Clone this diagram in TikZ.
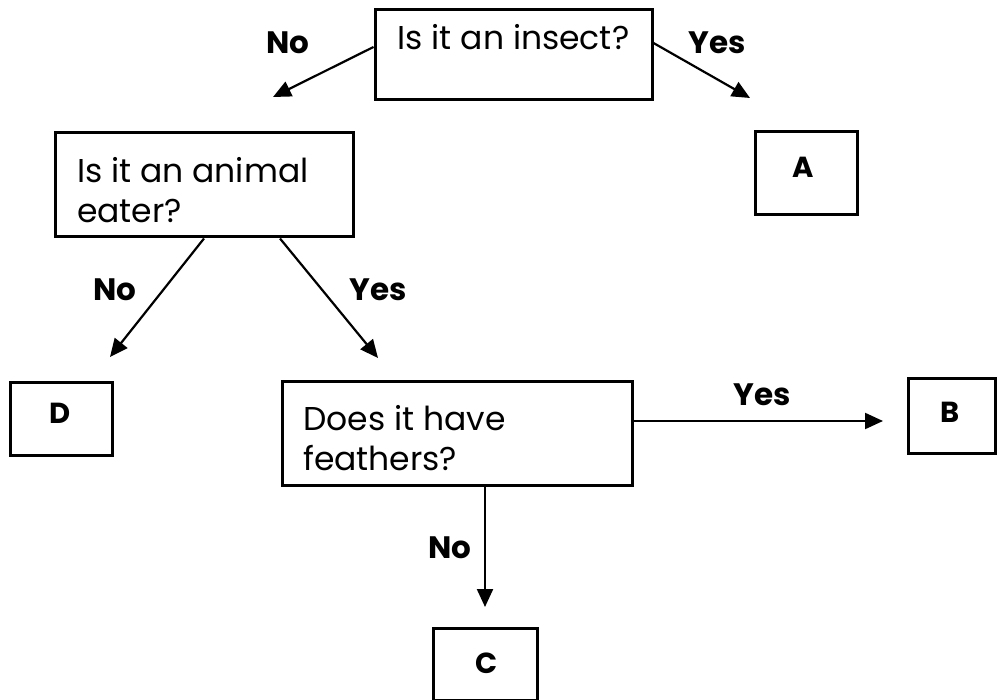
\documentclass[tikz,border=0pt]{standalone}
\usepackage{fontspec}
\setmainfont{Poppins}
\usetikzlibrary{arrows.meta,calc}
\begin{document}
\begin{tikzpicture}[x=1pt,y=-1pt,
  box/.style={draw,line width=3pt,rectangle,inner sep=0pt},
  qtext/.style={font=\fontsize{33}{40}\selectfont,inner sep=0pt,align=left},
  ltr/.style={font=\fontsize{29}{30}\selectfont\bfseries,inner sep=0pt},
  lbl/.style={font=\fontsize{31}{32}\selectfont\bfseries,inner sep=0pt},
  conn/.style={line width=2.2pt,-{Triangle[length=18pt,width=16pt]}}]
\useasboundingbox (0,0) rectangle (998,700);
% boxes
\node[box,minimum width=277pt,minimum height=90pt] (q1) at (513.5,55) {};
\node[qtext] (q1t) at (513.5,37) {Is it an insect?};
\node[box,minimum width=102pt,minimum height=83pt] (a) at (806,173.5) {};
\node[ltr] (at) at (803,167) {A};
\node[box,minimum width=298pt,minimum height=104pt] (q2) at (204,185) {};
\node[qtext,anchor=west] (q2t) at (77,190) {Is it an animal\\eater?};
\node[box,minimum width=102pt,minimum height=73pt] (d) at (61,418.5) {};
\node[ltr] (dt) at (60,413) {D};
\node[box,minimum width=350pt,minimum height=104pt] (q3) at (457,433) {};
\node[qtext,anchor=west] (q3t) at (303,438) {Does it have\\feathers?};
\node[box,minimum width=87pt,minimum height=75pt] (b) at (951.5,415.5) {};
\node[ltr] (bt) at (950,412) {B};
\node[box,minimum width=104pt,minimum height=72pt] (c) at (485,664) {};
\node[ltr] (ct) at (487,663) {C};
% arrow ends
\coordinate (e1) at (273,97);
\coordinate (e2) at (750,98);
\coordinate (e3) at (110,357);
\coordinate (e4) at (378,358);
\coordinate (e5) at (883,421);
\coordinate (e6) at (485,607);
% connectors
\draw[conn] ([yshift=8pt]q1.west) -- (e1);
\draw[conn] ([yshift=12pt]q1.east) -- (e2);
\draw[conn] (q2.south) -- (e3);
\draw[conn] ([xshift=76pt]q2.south) -- (e4);
\draw[conn] ([yshift=12pt]q3.east) -- (e5);
\draw[conn] ([xshift=28pt]q3.south) -- (e6);
% labels
\node[lbl] (l1) at (288,43) {No};
\node[lbl] (l2) at (717,43) {Yes};
\node[lbl] (l3) at (115,290) {No};
\node[lbl] (l4) at (378,290) {Yes};
\node[lbl] (l5) at (762,395) {Yes};
\node[lbl] (l6) at (450,548) {No};
\end{tikzpicture}
\end{document}
